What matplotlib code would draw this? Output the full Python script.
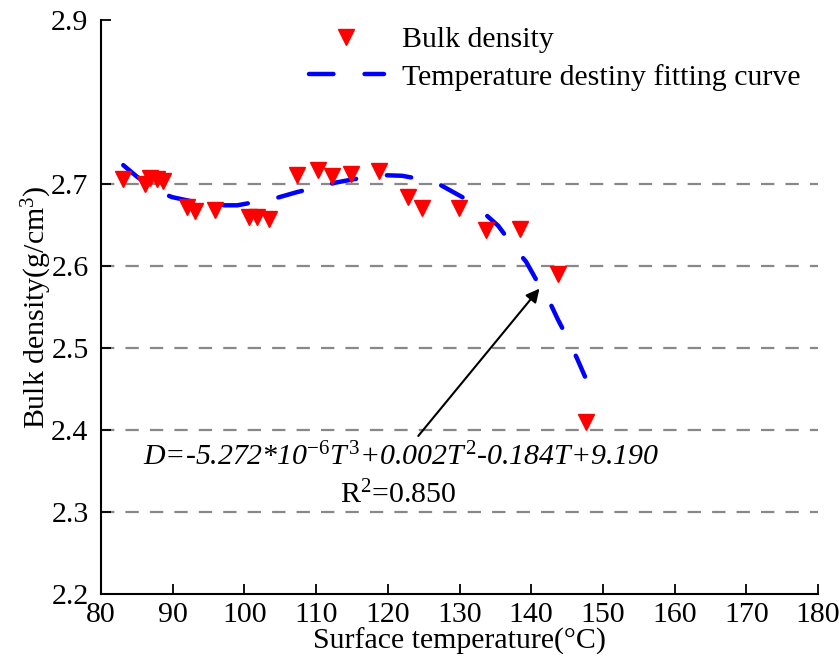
import matplotlib
matplotlib.use('Agg')
import matplotlib.pyplot as plt

# === Data ===
temp = [83.1, 86.1, 86.8, 87.8, 88.6, 92.0, 93.1, 95.9, 100.6, 101.8, 103.4,
        107.3, 110.3, 112.2, 114.9, 118.8, 122.8, 124.8, 129.9, 133.7, 138.4,
        143.7, 147.6]
density = [2.706, 2.700, 2.707, 2.706, 2.704, 2.672, 2.667, 2.668, 2.660, 2.660,
           2.657, 2.711, 2.717, 2.710, 2.712, 2.716, 2.684, 2.671, 2.671, 2.644,
           2.645, 2.590, 2.410]

# fitting curve as drawn
fit_t = [83.1, 85.0, 87.9, 89.9, 93.1, 95.6, 99.0, 101.5, 104.5, 107.3, 110.1,
         112.9, 116.0, 118.6, 122.0, 124.5, 127.3, 131.2, 133.6, 135.4, 137.5,
         139.3, 140.9, 142.3, 143.7, 145.0, 146.4, 147.5]
fit_d = [2.723, 2.709, 2.691, 2.684, 2.678, 2.674, 2.674, 2.678, 2.683, 2.690,
         2.696, 2.702, 2.707, 2.711, 2.710, 2.706, 2.699, 2.680, 2.663, 2.649,
         2.624, 2.605, 2.580, 2.561, 2.535, 2.513, 2.487, 2.465]

yticks = [2.2, 2.3, 2.4, 2.5, 2.6, 2.7, 2.9]
grid_levels = [2.3, 2.4, 2.5, 2.6, 2.7]
xticks = list(range(80, 181, 10))

plt.rcParams['font.family'] = ['Liberation Serif', 'DejaVu Serif']
plt.rcParams['mathtext.fontset'] = 'custom'
plt.rcParams['mathtext.rm'] = 'Liberation Serif'
plt.rcParams['mathtext.it'] = 'Liberation Serif:italic'

FS = 21.5

fig = plt.figure(figsize=(8.39, 6.68), dpi=100)
ax = fig.add_axes([0.1204, 0.111, 0.8546, 0.859])

for g in grid_levels:
    ax.axhline(g, color='#888888', lw=1.6, ls=(0, (6, 5)), zorder=0)

ax.plot(temp, density, 'v', color='red', ms=11, mec='red', label='Bulk density', zorder=3)
ax.plot(fit_t, fit_d, color='blue', lw=3.2, ls=(0, (5.5, 7)), solid_capstyle='round',
        dash_capstyle='round', label='Temperature destiny fitting curve', zorder=2)

ax.set_xlim(80, 180)
ax.set_ylim(2.2, 2.9)
ax.set_xticks(xticks)
ax.set_yticks(yticks)
ax.tick_params(direction='in', length=7, width=1.3, labelsize=FS)
ax.tick_params(axis='x', pad=6)
ax.tick_params(axis='y', pad=9)
for s in ['top', 'right']:
    ax.spines[s].set_visible(False)
for s in ['left', 'bottom']:
    ax.spines[s].set_linewidth(1.5)

ax.set_xlabel('Surface temperature(\u00b0C)', fontsize=FS, labelpad=0)
ax.set_ylabel('Bulk density(g/cm$^3$)', fontsize=FS, labelpad=-2)

ax.annotate('', xy=(141.4, 2.575), xytext=(124.0, 2.390),
            arrowprops=dict(arrowstyle='-|>', color='black', lw=1.5, mutation_scale=20))
ax.text(121.8, 2.367, r'$D$=-5.272*10$^{-6}$$T^3$+0.002$T^2$-0.184$T$+9.190',
        fontsize=FS, style='italic', ha='center', va='center')
ax.text(121.4, 2.32, 'R$^2$=0.850', fontsize=FS, ha='center', va='center')

ax.legend(loc='upper right', bbox_to_anchor=(1.0, 1.02), frameon=False, fontsize=FS,
          handlelength=2.5, borderaxespad=0.2, labelspacing=0.35, handletextpad=0.6)

fig.savefig('out.png', dpi=100)
